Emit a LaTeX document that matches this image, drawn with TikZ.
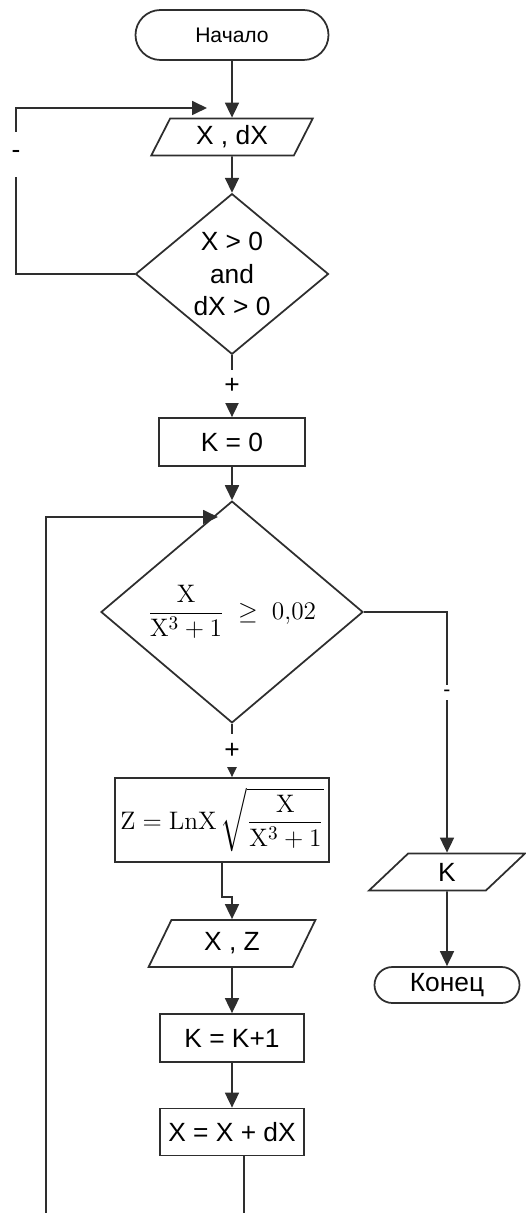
\documentclass[tikz,border=0pt]{standalone}
\usepackage{amsmath}
\usepackage{amssymb}
\usepackage[no-math]{fontspec}
\setmainfont{Liberation Sans}
\usepackage{tikz}
\usetikzlibrary{positioning,calc,shapes.geometric,arrows.meta}
\definecolor{fcline}{HTML}{2E2E2E}

\begin{document}
\begin{tikzpicture}[
  line width=1pt,
  arr/.style={draw=fcline, -{Triangle[length=0.30cm,width=0.28cm]}},
  termbox/.style={draw=fcline, rectangle, inner sep=0pt, font=\fontsize{15}{17}\selectfont},
  procbox/.style={draw=fcline, rectangle, inner sep=0pt, font=\fontsize{15}{17}\selectfont},
  iobox/.style={draw=fcline, trapezium, trapezium left angle=64, trapezium right angle=116,
    trapezium stretches=true, inner sep=0pt, font=\fontsize{15}{17}\selectfont},
  decbox/.style={draw=fcline, diamond, inner sep=0pt, align=center, font=\fontsize{15}{18.5}\selectfont},
  signlbl/.style={fill=white, inner sep=0pt, minimum width=0.3cm, font=\fontsize{15}{17}\selectfont},
]
\path[use as bounding box, clip] (0,0) rectangle (10.52,-24.26);

\node[termbox, rounded corners=0.5cm, minimum width=3.86cm, minimum height=1.0cm,
  font=\fontsize{12}{14}\selectfont] (start) at (4.64,-0.70) {Начало};
\node[iobox, minimum width=3.24cm, minimum height=0.74cm] (inp) at (4.64,-2.74) {X , dX};
\node[decbox, minimum width=3.86cm, minimum height=2.76cm] (chk) at (4.64,-5.48) {X > 0\\and\\dX > 0};
\node[procbox, minimum width=2.92cm, minimum height=0.96cm] (kzero) at (4.64,-8.84) {K = 0};
\node[decbox, minimum width=5.24cm, minimum height=2.84cm] (cond) at (4.64,-12.24)
  {$\dfrac{\mathrm{X}}{\mathrm{X}^3+1}\;\geq\;0{,}02$};
\node[procbox, minimum width=4.28cm, minimum height=1.68cm] (zcalc) at (4.44,-16.40)
  {$\mathrm{Z}=\mathrm{LnX}\,\sqrt{\dfrac{\mathrm{X}}{\mathrm{X}^3+1}}$};
\node[iobox, minimum width=3.34cm, minimum height=0.94cm] (outxz) at (4.64,-18.87) {X , Z};
\node[procbox, minimum width=2.88cm, minimum height=0.96cm] (kinc) at (4.64,-20.76) {K = K+1};
\node[procbox, minimum width=2.88cm, minimum height=0.94cm] (xinc) at (4.64,-22.64) {X = X + dX};
\node[iobox, minimum width=3.12cm, minimum height=0.74cm] (outk) at (8.94,-17.44) {K};
\node[termbox, rounded corners=0.36cm, minimum width=2.90cm, minimum height=0.72cm] (stop) at (8.94,-19.70) {Конец};

\coordinate (backin) at (4.14,-2.16);
\coordinate (loopin) at (4.36,-10.34);
\coordinate (xout) at ($(xinc.south)+(0.24,0)$);

\draw[arr] (start) -- (inp);
\draw[arr] (inp) -- (chk);
\draw[arr] (chk.west) -- (0.32,-5.48) |- node[signlbl, pos=0.36, minimum height=0.9cm]{-} (backin);
\draw[arr] (chk.south) -- node[signlbl, minimum height=0.66cm]{+} (kzero.north);
\draw[arr] (kzero) -- (cond);
\draw[arr] (cond.south) -- node[signlbl, minimum height=0.66cm]{+} (cond.south |- zcalc.north);
\draw[arr] (zcalc.south) -- ++(0,-0.68) -| (outxz.north);
\draw[arr] (outxz) -- (kinc);
\draw[arr] (kinc) -- (xinc);
\draw[arr] (xout) |- (0.92,-24.9) |- (loopin);
\draw[arr] (cond.east) -| node[signlbl, pos=0.668, minimum height=0.3cm, font=\fontsize{12}{14}\selectfont]{-} (outk.north);
\draw[arr] (outk) -- (stop);
\end{tikzpicture}
\end{document}
